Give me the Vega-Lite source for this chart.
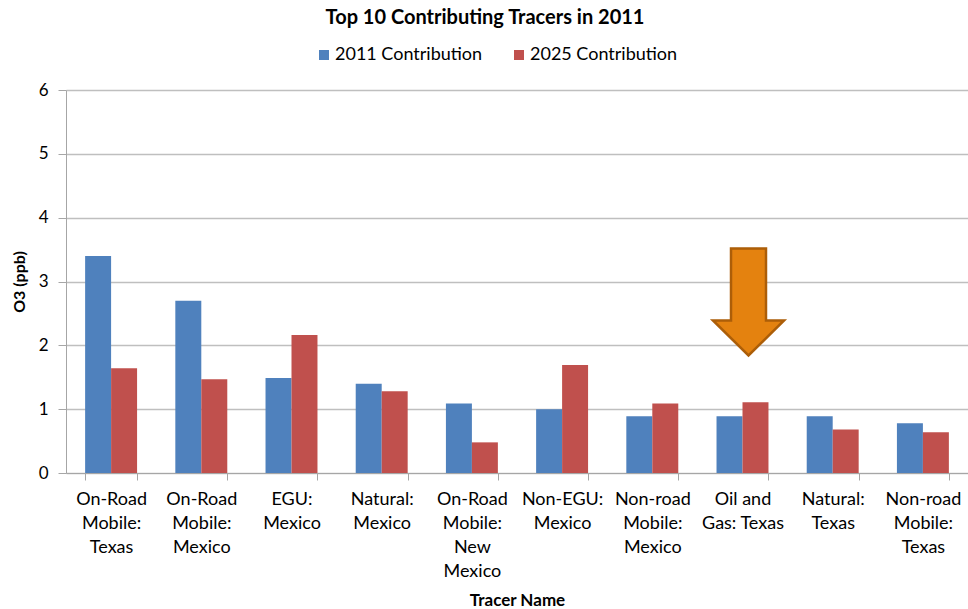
{
  "$schema": "https://vega.github.io/schema/vega-lite/v6.json",
  "autosize": "none",
  "width": 902,
  "height": 383,
  "padding": {"left": 66, "top": 90, "right": 0, "bottom": 136},
  "background": "white",
  "title": {
    "text": "Top 10 Contributing Tracers in 2011",
    "font": "Lato",
    "fontSize": 20,
    "fontWeight": "bold",
    "color": "#000000",
    "anchor": "middle",
    "dx": -32,
    "offset": 18
  },
  "config": {
    "font": "Lato",
    "view": {"stroke": null}
  },
  "datasets": {
    "bars": [
      {"tracer": "On-Road Mobile: Texas", "series": "2011 Contribution", "o3": 3.40},
      {"tracer": "On-Road Mobile: Texas", "series": "2025 Contribution", "o3": 1.64},
      {"tracer": "On-Road Mobile: Mexico", "series": "2011 Contribution", "o3": 2.70},
      {"tracer": "On-Road Mobile: Mexico", "series": "2025 Contribution", "o3": 1.47},
      {"tracer": "EGU: Mexico", "series": "2011 Contribution", "o3": 1.49},
      {"tracer": "EGU: Mexico", "series": "2025 Contribution", "o3": 2.16},
      {"tracer": "Natural: Mexico", "series": "2011 Contribution", "o3": 1.40},
      {"tracer": "Natural: Mexico", "series": "2025 Contribution", "o3": 1.28},
      {"tracer": "On-Road Mobile: New Mexico", "series": "2011 Contribution", "o3": 1.09},
      {"tracer": "On-Road Mobile: New Mexico", "series": "2025 Contribution", "o3": 0.48},
      {"tracer": "Non-EGU: Mexico", "series": "2011 Contribution", "o3": 1.00},
      {"tracer": "Non-EGU: Mexico", "series": "2025 Contribution", "o3": 1.69},
      {"tracer": "Non-road Mobile: Mexico", "series": "2011 Contribution", "o3": 0.89},
      {"tracer": "Non-road Mobile: Mexico", "series": "2025 Contribution", "o3": 1.09},
      {"tracer": "Oil and Gas: Texas", "series": "2011 Contribution", "o3": 0.89},
      {"tracer": "Oil and Gas: Texas", "series": "2025 Contribution", "o3": 1.11},
      {"tracer": "Natural: Texas", "series": "2011 Contribution", "o3": 0.89},
      {"tracer": "Natural: Texas", "series": "2025 Contribution", "o3": 0.68},
      {"tracer": "Non-road Mobile: Texas", "series": "2011 Contribution", "o3": 0.78},
      {"tracer": "Non-road Mobile: Texas", "series": "2025 Contribution", "o3": 0.64}
    ],
    "arrow": [
      {"tracer": "Oil and Gas: Texas", "o3": 2.68}
    ]
  },
  "encoding": {
    "x": {
      "field": "tracer",
      "type": "nominal",
      "sort": null,
      "scale": {"paddingInner": 0.424, "paddingOuter": 0.212},
      "axis": {
        "title": "Tracer Name",
        "titleFont": "Lato",
        "titleFontSize": 17,
        "titleFontWeight": "bold",
        "titleColor": "#000000",
        "titlePadding": 12,
        "labelAngle": 0,
        "labelFont": "Lato",
        "labelFontSize": 18,
        "labelColor": "#000000",
        "labelLineHeight": 24,
        "labelPadding": 10,
        "labelLimit": 200,
        "labelOverlap": false,
        "labelExpr": "datum.label == 'Oil and Gas: Texas' ? ['Oil and', 'Gas: Texas'] : split(datum.label, ' ')",
        "tickBand": "extent",
        "tickSize": 7,
        "tickColor": "#A6A6A6",
        "domainColor": "#A6A6A6",
        "grid": false
      }
    },
    "y": {
      "field": "o3",
      "type": "quantitative",
      "scale": {"domain": [0, 6], "nice": false},
      "axis": {
        "title": "O3 (ppb)",
        "titleFont": "Lato",
        "titleFontSize": 16,
        "titleFontWeight": "bold",
        "titleColor": "#000000",
        "titlePadding": 11,
        "values": [0, 1, 2, 3, 4, 5, 6],
        "labelFont": "Lato",
        "labelFontSize": 17,
        "labelColor": "#000000",
        "labelPadding": 10,
        "tickSize": 8,
        "tickColor": "#A6A6A6",
        "domainColor": "#A6A6A6",
        "gridColor": "#BFBFBF",
        "gridWidth": 1.5
      }
    }
  },
  "layer": [
    {
      "data": {"name": "bars"},
      "mark": {"type": "bar"},
      "encoding": {
        "xOffset": {"field": "series", "type": "nominal", "scale": {"paddingInner": 0, "paddingOuter": 0}},
        "color": {
          "field": "series",
          "type": "nominal",
          "scale": {"domain": ["2011 Contribution", "2025 Contribution"], "range": ["#4F81BD", "#C0504D"]},
          "legend": {
            "title": null,
            "orient": "none",
            "direction": "horizontal",
            "legendX": 249,
            "legendY": -44,
            "symbolType": "square",
            "symbolSize": 100,
            "symbolStrokeWidth": 0,
            "labelFont": "Lato",
            "labelFontSize": 18,
            "labelColor": "#000000",
            "labelOffset": 2,
            "columnPadding": 27
          }
        }
      }
    },
    {
      "data": {"name": "arrow"},
      "mark": {
        "type": "point",
        "shape": "M -0.327 -1 L 0.327 -1 L 0.327 0.346 L 0.664 0.346 L 0 1 L -0.664 0.346 L -0.327 0.346 Z",
        "size": 11449,
        "filled": true,
        "fill": "#E4820F",
        "stroke": "#AC5E08",
        "strokeWidth": 2.5,
        "opacity": 1,
        "xOffset": 6
      },
      "encoding": {}
    }
  ]
}
